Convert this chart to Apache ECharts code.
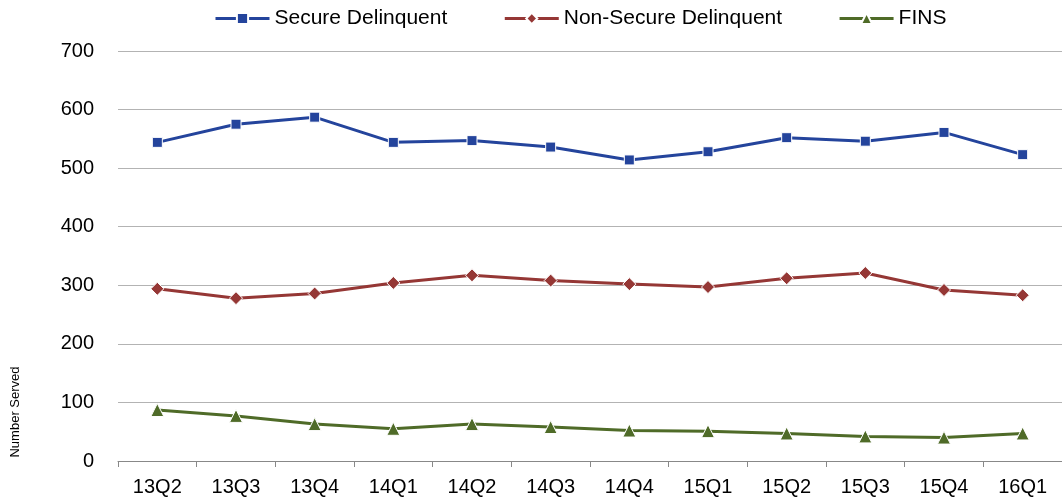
<!DOCTYPE html>
<html>
<head>
<meta charset="utf-8">
<script src="https://cdn.jsdelivr.net/npm/echarts@6/dist/echarts.min.js"></script>
<style>
  html, body { margin: 0; padding: 0; background: #fff; }
  #main { width: 1062px; height: 503px; }
</style>
</head>
<body>
<div id="main"></div>
<script>
var quarters = ["13Q2", "13Q3", "13Q4", "14Q1", "14Q2", "14Q3", "14Q4", "15Q1", "15Q2", "15Q3", "15Q4", "16Q1"];
var secureDelinquent = [544, 575, 587, 544, 547, 536, 514, 528, 552, 546, 561, 523];
var nonSecureDelinquent = [294, 278, 286, 304, 317, 308, 302, 297, 312, 321, 292, 283];
var fins = [87, 77, 63, 55, 63, 58, 52, 51, 47, 42, 40, 47];

var font = "Liberation Sans, Arial, sans-serif";

function lineSeries(name, data, color, symbol, size) {
  return {
    name: name,
    type: "line",
    data: data,
    symbol: symbol,
    symbolSize: size,
    lineStyle: { color: color, width: 3 },
    itemStyle: { color: color, borderColor: "#fff", borderWidth: 1 },
    emphasis: { disabled: true },
    animation: false
  };
}

var myChart = echarts.init(document.getElementById("main"));
var option = {
  backgroundColor: "#fff",
  legend: {
    top: 3,
    left: 209,
    itemWidth: 54,
    itemHeight: 14,
    itemGap: 56,
    lineStyle: { width: 3 },
    textStyle: { fontFamily: font, fontSize: 21, color: "#000" },
    data: ["Secure Delinquent", "Non-Secure Delinquent", "FINS"]
  },
  grid: { left: 118, right: -4, top: 51, bottom: 42 },
  xAxis: {
    type: "category",
    data: quarters,
    boundaryGap: true,
    axisLine: { lineStyle: { color: "#888", width: 1 } },
    axisTick: { show: true, length: 6, lineStyle: { color: "#888" } },
    axisLabel: { fontFamily: font, fontSize: 20, color: "#000", margin: 16 }
  },
  yAxis: {
    type: "value",
    min: 0,
    max: 700,
    interval: 100,
    axisLine: { show: false },
    axisTick: { show: false },
    splitLine: { lineStyle: { color: "#b3b3b3", width: 1 } },
    axisLabel: { fontFamily: font, fontSize: 20, color: "#000", margin: 24 }
  },
  graphic: [{
    type: "text",
    x: 15,
    y: 412,
    rotation: Math.PI / 2,
    style: {
      text: "Number Served",
      fontFamily: font,
      fontSize: 13,
      fill: "#000",
      textAlign: "center",
      textVerticalAlign: "middle"
    }
  }],
  series: [
    lineSeries("Secure Delinquent", secureDelinquent, "#24449c", "rect", 10),
    lineSeries("Non-Secure Delinquent", nonSecureDelinquent, "#953735", "diamond", 13),
    lineSeries("FINS", fins, "#4f6b28", "triangle", 13)
  ]
};
myChart.setOption(option);
</script>
</body>
</html>
